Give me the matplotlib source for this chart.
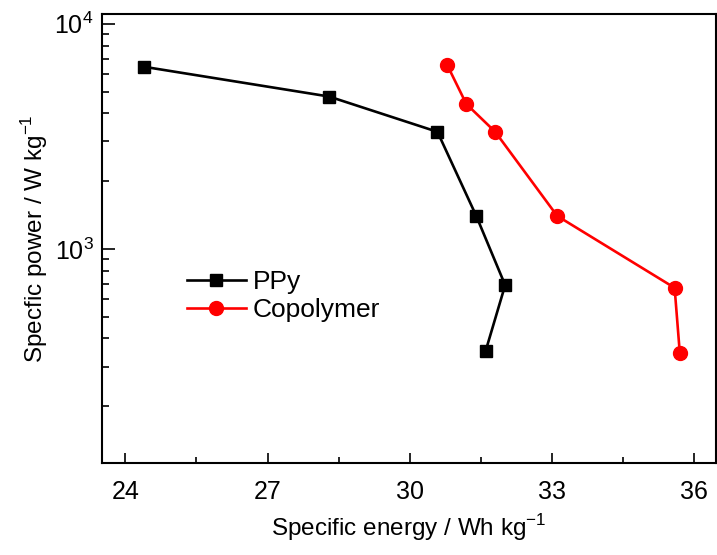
import numpy as np
import matplotlib.pyplot as plt
from matplotlib.ticker import LogLocator, NullFormatter, MultipleLocator

plt.rcParams['font.family'] = ['Liberation Sans', 'DejaVu Sans']
plt.rcParams['mathtext.fontset'] = 'custom'
plt.rcParams['mathtext.rm'] = 'Liberation Sans'

# =========================================================
# DATA
# =========================================================

ppy_energy = [24.39, 28.30, 30.59, 31.41, 32.02, 31.61]
ppy_power = [6440, 4750, 3310, 1400, 690, 353]

copo_energy = [30.80, 31.20, 31.81, 33.12, 35.60, 35.71]
copo_power = [6530, 4400, 3310, 1400, 671, 343]

x_ticks = [24, 27, 30, 33, 36]

# =========================================================
# PLOT
# =========================================================

fig = plt.figure(figsize=(7.17, 5.55), dpi=100)
ax = fig.add_axes([0.142, 0.166, 0.857, 0.808])

ax.plot(ppy_energy, ppy_power, color="black", lw=1.9,
        marker="s", ms=8.5, mec="black", mfc="black", label="PPy")
ax.plot(copo_energy, copo_power, color="#ff0000", lw=1.9,
        marker="o", ms=10, mec="#ff0000", mfc="#ff0000", label="Copolymer")

ax.set_yscale("log")
ax.set_xlim(23.5, 36.48)
ax.set_ylim(112, 11000)

ax.set_xticks(x_ticks)
ax.xaxis.set_minor_locator(MultipleLocator(1.5))
ax.yaxis.set_major_locator(LogLocator(base=10))
ax.yaxis.set_minor_locator(LogLocator(base=10, subs=np.arange(2, 10)))
ax.yaxis.set_minor_formatter(NullFormatter())

ax.tick_params(axis="both", which="both", direction="in", top=False, right=False,
               labelsize=18, width=1.2)
ax.tick_params(axis="y", which="major", length=9, pad=6)
ax.tick_params(axis="y", which="minor", length=5)
ax.tick_params(axis="x", which="major", length=7, pad=12)
ax.tick_params(axis="x", which="minor", length=4)

for s in ax.spines.values():
    s.set_linewidth(1.5)

ax.set_xlabel("Specific energy / Wh kg$^{-1}$", fontsize=17.5, labelpad=6)
ax.set_ylabel("Specfic power / W kg$^{-1}$", fontsize=17.5, labelpad=3)

ax.legend(loc="center left", bbox_to_anchor=(0.138, 0.372), frameon=False,
          fontsize=19, handlelength=2.25, borderpad=0, borderaxespad=0,
          labelspacing=0.15, handletextpad=0.27)

fig.savefig("out.png", dpi=100)
